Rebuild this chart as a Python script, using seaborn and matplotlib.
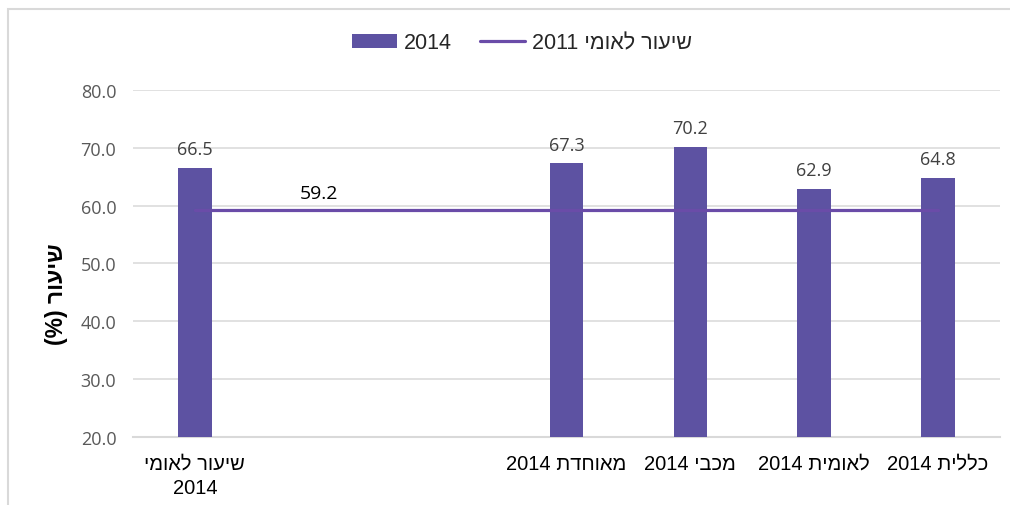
import numpy as np
import pandas as pd
import seaborn as sns
import matplotlib
matplotlib.use("Agg")
import matplotlib.pyplot as plt
from matplotlib.patches import Rectangle
from matplotlib.lines import Line2D
from matplotlib.patches import Patch

# ---- data ----
categories = ["שיעור לאומי\n2014", " ", "  ", "מאוחדת 2014", "מכבי 2014", "לאומית 2014", "כללית 2014"]
bar_categories = ["שיעור לאומי\n2014", "מאוחדת 2014", "מכבי 2014", "לאומית 2014", "כללית 2014"]
bar_values = [66.5, 67.3, 70.2, 62.9, 64.8]
national_2011 = [59.2, 59.2, 59.2, 59.2, 59.2, 59.2, 59.2]
national_label = "59.2"
legend_bar = "2014"
legend_line = "שיעור לאומי 2011"
y_label = "שיעור (%)"
y_ticks = [20.0, 30.0, 40.0, 50.0, 60.0, 70.0, 80.0]


def is_heb(w):
    return any('\u0590' <= ch <= '\u05FF' for ch in w)


def vis(s):
    """Convert logical RTL text to visual order for matplotlib (no bidi)."""
    out = []
    for line in s.split("\n"):
        words = line.split(" ")
        words = [w[::-1] if is_heb(w) else w for w in words]
        if any(is_heb(w) for w in words):
            words = words[::-1]
        out.append(" ".join(words))
    return "\n".join(out)


BAR = "#5D52A2"
LINE = "#6A4CA8"
GRID = "#D9D9D9"

sns.set_theme(style="white")
plt.rcParams['font.family'] = ['Liberation Sans', 'DejaVu Sans']

fig = plt.figure(figsize=(10.10, 5.06), dpi=100)
ax = fig.add_axes([133 / 1010, 1 - 438 / 506, 867 / 1010, 347 / 506])

df_bars = pd.DataFrame({"cat": bar_categories, "val": bar_values})
sns.barplot(data=df_bars, x="cat", y="val", order=categories, color=BAR,
            width=0.27, saturation=1, ax=ax, zorder=3, linewidth=0)

line_x = [categories.index(c) for c in categories]
df_line = pd.DataFrame({"x": line_x, "y": national_2011})
sns.lineplot(data=df_line, x="x", y="y", color=LINE, linewidth=2.3, ax=ax, zorder=4)

# bar labels
for cont in ax.containers:
    ax.bar_label(cont, fmt="%.1f", padding=7, fontsize=13, color="#404040",
                 family=["Open Sans", "DejaVu Sans"])

ax.annotate(national_label, xy=(1, national_2011[1]), xytext=(0, 6), textcoords="offset points",
            ha="center", va="bottom", fontsize=14, color="black", family=["Open Sans", "DejaVu Sans"])

ax.set_xlim(-0.5, len(categories) - 0.5)
ax.set_ylim(20, 80)
ax.set_yticks(y_ticks)
ax.set_yticklabels([f"{v:.1f}" for v in y_ticks], fontsize=13, color="#595959",
                   family=["Open Sans", "DejaVu Sans"])
ax.set_xticks(range(len(categories)))
ax.set_xticklabels([vis(c) for c in categories], fontsize=14.5, color="black",
                   family=["Liberation Sans", "DejaVu Sans"], linespacing=1.35)
ax.tick_params(axis="both", length=0)
ax.tick_params(axis="x", pad=12)
ax.tick_params(axis="y", pad=12)
ax.grid(axis="y", color=GRID, linewidth=1.1, zorder=0)
ax.grid(axis="x", visible=False)
for side in ["top", "right", "left"]:
    ax.spines[side].set_visible(False)
ax.spines["bottom"].set_color(GRID)
ax.spines["bottom"].set_linewidth(1.5)
ax.set_xlabel("")
ax.set_ylabel(vis(y_label), fontsize=16.5, fontweight="bold", color="black",
              family=["Liberation Sans", "DejaVu Sans"])
ax.yaxis.set_label_coords((68 - 133) / 867, (438 - 294) / 347)

handles = [Patch(facecolor=BAR, edgecolor="none"), Line2D([0], [0], color=LINE, linewidth=2.3)]
leg = fig.legend(handles, [legend_bar, vis(legend_line)], loc="center",
                 bbox_to_anchor=(522 / 1010, 1 - 44 / 506), ncol=2, frameon=False,
                 prop={"family": ["Liberation Sans", "DejaVu Sans"], "size": 15.5},
                 handlelength=2.1, handletextpad=0.3, columnspacing=1.3, handleheight=0.65)

# chart area border
fig.patches.append(Rectangle((8 / 1010, -0.1), 1.2, 1 - 10 / 506 + 0.1, transform=fig.transFigure,
                             fill=False, edgecolor="#D9D9D9", linewidth=1.5, zorder=0))

fig.savefig("out.png", dpi=100)
